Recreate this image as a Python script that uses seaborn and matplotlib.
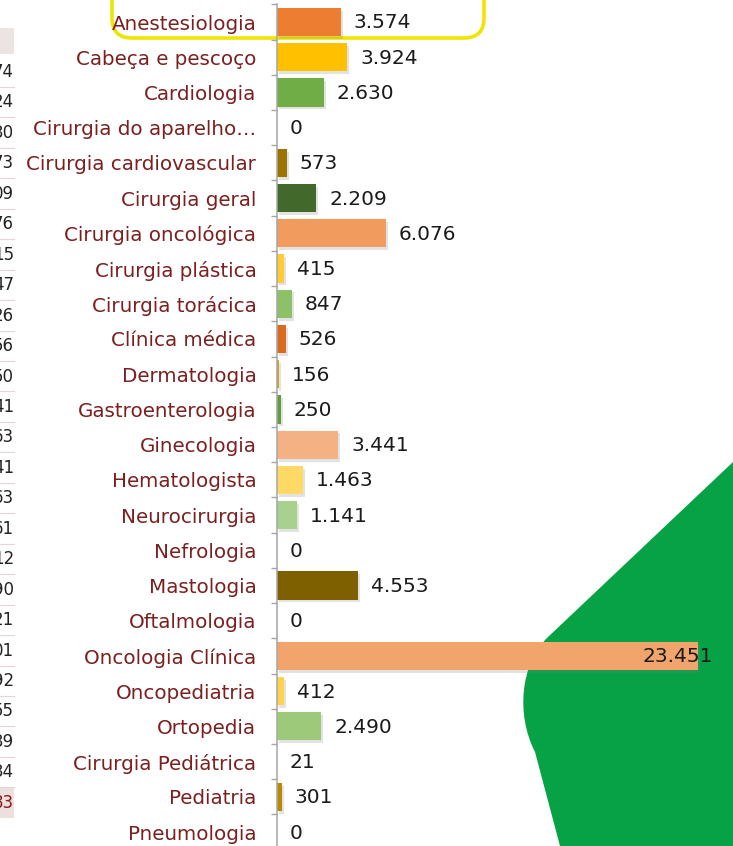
import numpy as np
import pandas as pd
import matplotlib
matplotlib.use("Agg")
import matplotlib.pyplot as plt
import matplotlib.patheffects as pe
from matplotlib.path import Path
from matplotlib.patches import PathPatch, FancyBboxPatch, Rectangle
import seaborn as sns

especialidades = [
    "Anestesiologia", "Cabeça e pescoço", "Cardiologia", "Cirurgia do aparelho…",
    "Cirurgia cardiovascular", "Cirurgia geral", "Cirurgia oncológica",
    "Cirurgia plástica", "Cirurgia torácica", "Clínica médica", "Dermatologia",
    "Gastroenterologia", "Ginecologia", "Hematologista", "Neurocirurgia",
    "Nefrologia", "Mastologia", "Oftalmologia", "Oncologia Clínica",
    "Oncopediatria", "Ortopedia", "Cirurgia Pediátrica", "Pediatria", "Pneumologia",
]
valores = [3574, 3924, 2630, 0, 573, 2209, 6076, 415, 847, 526, 156, 250,
           3441, 1463, 1141, 0, 4553, 0, 23451, 412, 2490, 21, 301, 0]
cores = [
    "#ED7D31", "#FFC000", "#70AD47", "#9E480E", "#9A7300", "#43682B",
    "#F29B5E", "#FFCD33", "#8CC168", "#DA6A1E", "#D9A300", "#609D3C",
    "#F4B183", "#FFD966", "#A9D18E", "#843C0C", "#7F6000", "#375623",
    "#F1A46C", "#FFD34F", "#9DC97A", "#B0652B", "#B88A00", "#507E32",
]
# fragments of the spreadsheet column cut off at the left edge
tabela_frag = ["74", "24", "30", "73", "09", "76", "15", "47", "26", "56", "50",
               "41", "63", "41", "63", "61", "12", "90", "21", "01", "92", "55",
               "39", "34", "83"]

df = pd.DataFrame({"especialidade": especialidades, "valor": valores})

W, H = 733, 846
fig = plt.figure(figsize=(W / 100, H / 100), dpi=100)

# background layer in pixel coordinates
bg = fig.add_axes([0, 0, 1, 1], zorder=0)
bg.set_xlim(0, W)
bg.set_ylim(H, 0)
bg.axis("off")

verde = Path(
    [(733, 462), (548, 637), (520, 664), (516, 715), (535, 752), (560, 846),
     (733, 846), (733, 462)],
    [Path.MOVETO, Path.LINETO, Path.CURVE4, Path.CURVE4, Path.CURVE4,
     Path.LINETO, Path.LINETO, Path.CLOSEPOLY],
)
bg.add_patch(PathPatch(verde, facecolor="#07A146", edgecolor="none"))

bg.add_patch(FancyBboxPatch((112, -60), 372, 98,
                            boxstyle="round,pad=0,rounding_size=20",
                            facecolor="none", edgecolor="#F0E400", linewidth=2.6))

# spreadsheet remnants
bg.add_patch(Rectangle((0, 28), 14, 26, facecolor="#ECE3E3", edgecolor="none"))
for i, t in enumerate(tabela_frag):
    y = 72 + 30.45 * i
    ultimo = i == len(tabela_frag) - 1
    if ultimo:
        bg.add_patch(Rectangle((0, y - 15), 14, 30, facecolor="#EEDFDF", edgecolor="none"))
    bg.text(14, y, t, ha="right", va="center", fontsize=12,
            color="#8B1A1A" if ultimo else "#222222")
    if not ultimo:
        bg.plot([0, 14], [y + 15, y + 15], color="#EBD3D3", lw=0.8)

# main chart
escala = 0.01797  # px per unit
x0 = 276.5
xmax = 25000
topo = 22 - 35.22 / 2
base = 22 + 35.22 * 23 + 35.22 / 2
ax = fig.add_axes([x0 / W, (H - base) / H, xmax * escala / W, (base - topo) / H], zorder=1)
ax.patch.set_alpha(0)

sns.barplot(data=df, x="valor", y="especialidade", hue="especialidade",
            palette=dict(zip(especialidades, cores)), orient="h", width=0.8,
            legend=False, ax=ax, saturation=1)

for p in ax.patches:
    p.set_path_effects([pe.SimplePatchShadow(offset=(1.5, -2), shadow_rgbFace="#7F7F7F", alpha=0.22),
                        pe.Normal()])

ax.set_xlim(0, xmax)
ax.set_ylim(23.5, -0.5)
ax.xaxis.set_visible(False)
for s in ["top", "right", "bottom"]:
    ax.spines[s].set_visible(False)
ax.spines["left"].set_color("#A6A6A6")
ax.spines["left"].set_linewidth(1.1)
ax.set_ylabel("")
ax.set_yticks(np.arange(-0.5, 24, 1), minor=True)
ax.tick_params(axis="y", which="major", length=0, pad=14.5, labelsize=14.3, labelcolor="#7B1F1F")
ax.tick_params(axis="y", which="minor", length=4, width=1, color="#A6A6A6")

for i, v in enumerate(valores):
    txt = f"{v:,}".replace(",", ".")
    if v > 20000:
        ax.annotate(txt, xy=(v, i), xytext=(15, -1), textcoords="offset pixels",
                    ha="right", va="center", fontsize=14.5, color="#1A1A1A")
    else:
        ax.annotate(txt, xy=(v, i), xytext=(13, -1), textcoords="offset pixels",
                    ha="left", va="center", fontsize=14.5, color="#1A1A1A")

fig.savefig("out.png", dpi=100)
